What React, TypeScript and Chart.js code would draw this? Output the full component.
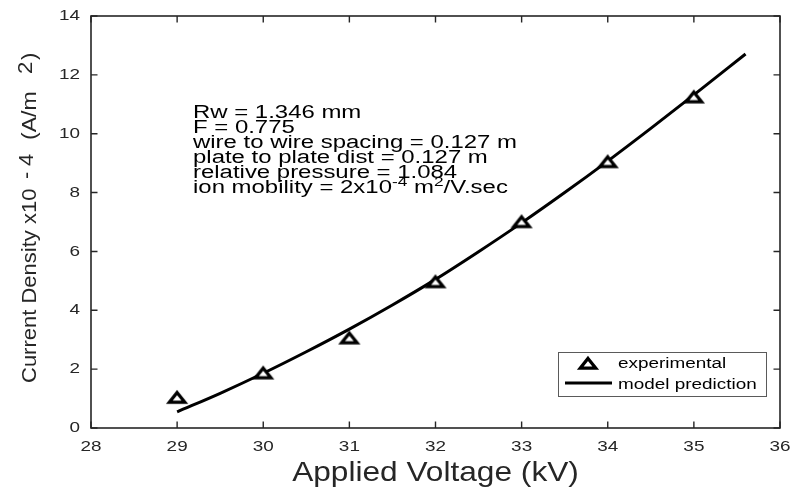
import React, { useEffect, useRef } from "react";
import { Chart, registerables } from "chart.js";

Chart.register(...registerables);

// Measured current density (x10^-4 A/m^2) at each applied voltage (kV)
const expVoltage = [29, 30, 31, 32, 33, 34, 35];
const expDensity = [1.05, 1.88, 3.07, 4.98, 7.02, 9.06, 11.26];

// Model prediction curve
const modelVoltage = [29.0, 29.5, 30, 30.5, 31, 31.5, 32, 32.5, 33, 33.5, 34, 34.5, 35, 35.6];
const modelDensity = [0.55, 1.18, 1.86, 2.59, 3.36, 4.18, 5.05, 5.99, 6.97, 8.0, 9.07, 10.18, 11.32, 12.71];

// Axis ranges and tick steps
const xTicks = [28, 29, 30, 31, 32, 33, 34, 35, 36];
const yTicks = [0, 2, 4, 6, 8, 10, 12, 14];

const seriesNames = ["experimental", "model prediction"];

const annotationLines = [
  "Rw = 1.346 mm",
  "F = 0.775",
  "wire to wire spacing = 0.127 m",
  "plate to plate dist = 0.127 m",
  "relative pressure = 1.084",
];

const FONT = '"Liberation Sans", Arial, Helvetica, sans-serif';
const AXIS_COLOR = "#262626";

function makeTriangle(): HTMLCanvasElement {
  const c = document.createElement("canvas");
  c.width = 28;
  c.height = 22;
  const g = c.getContext("2d")!;
  const cx = 14;
  const cy = 11;
  g.beginPath();
  g.moveTo(cx, cy - 4.6);
  g.lineTo(cx + 7.8, cy + 5.2);
  g.lineTo(cx - 7.8, cy + 5.2);
  g.closePath();
  g.fillStyle = "#ffffff";
  g.fill();
  g.lineJoin = "miter";
  g.lineWidth = 3.2;
  g.strokeStyle = "#000000";
  g.stroke();
  return c;
}

function text(
  ctx: CanvasRenderingContext2D,
  str: string,
  x: number,
  y: number,
  size: number,
  sx: number,
  align: "left" | "center" | "right",
  baseline: CanvasTextBaseline
): number {
  ctx.save();
  ctx.font = `${size}px ${FONT}`;
  ctx.textBaseline = baseline;
  ctx.textAlign = "left";
  const w = ctx.measureText(str).width * sx;
  const x0 = align === "center" ? x - w / 2 : align === "right" ? x - w : x;
  ctx.translate(x0, y);
  ctx.scale(sx, 1);
  ctx.fillText(str, 0, 0);
  ctx.restore();
  return w;
}

function makeFrame(tri: HTMLCanvasElement) {
  return {
    id: "frame",
    afterDraw(chart: any) {
      const ctx: CanvasRenderingContext2D = chart.ctx;
      const { left, right, top, bottom } = chart.chartArea;
      const xs = chart.scales.x;
      const ys = chart.scales.y;
      const tick = 6.5;

      ctx.save();
      // Box and inward ticks
      ctx.strokeStyle = AXIS_COLOR;
      ctx.lineWidth = 1.6;
      ctx.strokeRect(left, top, right - left, bottom - top);
      ctx.lineWidth = 1.4;
      ctx.beginPath();
      xTicks.forEach((v) => {
        const px = xs.getPixelForValue(v);
        ctx.moveTo(px, bottom);
        ctx.lineTo(px, bottom - tick);
        ctx.moveTo(px, top);
        ctx.lineTo(px, top + tick);
      });
      yTicks.forEach((v) => {
        const py = ys.getPixelForValue(v);
        ctx.moveTo(left, py);
        ctx.lineTo(left + tick, py);
        ctx.moveTo(right, py);
        ctx.lineTo(right - tick, py);
      });
      ctx.stroke();

      // Tick labels
      ctx.fillStyle = AXIS_COLOR;
      xTicks.forEach((v) => {
        text(ctx, String(v), xs.getPixelForValue(v), bottom + 19, 15, 1.26, "center", "middle");
      });
      yTicks.forEach((v) => {
        text(ctx, String(v), left - 11, ys.getPixelForValue(v), 15, 1.26, "right", "middle");
      });

      // X axis title
      text(ctx, "Applied Voltage (kV)", (left + right) / 2, bottom + 53, 28, 1.13, "center", "alphabetic");

      // Y axis title, rotated, with raised exponents
      ctx.save();
      ctx.translate(36, 383);
      ctx.rotate(-Math.PI / 2);
      text(ctx, "Current Density x10", 0, 0, 20, 1.1, "left", "alphabetic");
      text(ctx, "-", 204, -3, 20, 1.1, "left", "alphabetic");
      text(ctx, "4", 217, -3, 20, 1.1, "left", "alphabetic");
      text(ctx, "(A/m", 243, 0, 20, 1.15, "left", "alphabetic");
      text(ctx, "2", 309, -4, 20, 1.1, "left", "alphabetic");
      text(ctx, ")", 323, 0, 20, 1.1, "left", "alphabetic");
      ctx.restore();

      // Parameter annotation
      ctx.fillStyle = "#000000";
      const ax = 193;
      annotationLines.forEach((ln, i) => {
        text(ctx, ln, ax, 118.3 + i * 14.9, 18, 1.33, "left", "alphabetic");
      });
      const by = 118.3 + 5 * 14.9;
      let w = text(ctx, "ion mobility = 2x10", ax, by, 18, 1.33, "left", "alphabetic");
      w += text(ctx, "-4", ax + w, by - 7, 13, 1.33, "left", "alphabetic");
      w += text(ctx, " m", ax + w, by, 18, 1.33, "left", "alphabetic");
      w += text(ctx, "2", ax + w, by - 7, 13, 1.33, "left", "alphabetic");
      text(ctx, "/V.sec", ax + w, by, 18, 1.33, "left", "alphabetic");

      // Legend
      const lx = 558, ly = 352, lw = 208, lh = 44;
      ctx.fillStyle = "#ffffff";
      ctx.fillRect(lx, ly, lw, lh);
      ctx.strokeStyle = "#5a5a5a";
      ctx.lineWidth = 1;
      ctx.strokeRect(lx + 0.5, ly + 0.5, lw, lh);
      ctx.drawImage(tri, 588 - tri.width / 2, 363 - tri.height / 2);
      ctx.strokeStyle = "#000000";
      ctx.lineWidth = 3;
      ctx.beginPath();
      ctx.moveTo(565, 383);
      ctx.lineTo(612, 383);
      ctx.stroke();
      ctx.fillStyle = "#000000";
      text(ctx, seriesNames[0], 618, 368.3, 14, 1.35, "left", "alphabetic");
      text(ctx, seriesNames[1], 618, 389, 14, 1.35, "left", "alphabetic");
      ctx.restore();
    },
  };
}

export default function App() {
  const ref = useRef<HTMLCanvasElement | null>(null);

  useEffect(() => {
    document.body.style.margin = "0";
    const tri = makeTriangle();
    const chart = new Chart(ref.current!, {
      type: "scatter",
      data: {
        datasets: [
          {
            label: seriesNames[1],
            data: modelVoltage.map((v, i) => ({ x: v, y: modelDensity[i] })),
            showLine: true,
            borderColor: "#000000",
            borderWidth: 3,
            pointRadius: 0,
            cubicInterpolationMode: "monotone",
            order: 2,
          },
          {
            label: seriesNames[0],
            data: expVoltage.map((v, i) => ({ x: v, y: expDensity[i] })),
            showLine: false,
            pointStyle: tri,
            pointRadius: 10,
            order: 1,
          },
        ],
      },
      options: {
        animation: false,
        responsive: false,
        layout: { padding: { top: 16, right: 9, left: 0, bottom: 0 } },
        plugins: { legend: { display: false }, tooltip: { enabled: false } },
        scales: {
          x: {
            type: "linear",
            min: 28,
            max: 36,
            ticks: { display: false, stepSize: 1 },
            grid: { display: false },
            border: { display: false },
            afterFit: (s: any) => {
              s.height = 59;
            },
          },
          y: {
            type: "linear",
            min: 0,
            max: 14,
            ticks: { display: false, stepSize: 2 },
            grid: { display: false },
            border: { display: false },
            afterFit: (s: any) => {
              s.width = 91;
            },
          },
        },
      },
      plugins: [makeFrame(tri)],
    });
    return () => chart.destroy();
  }, []);

  return (
    <div style={{ width: 791, height: 487, background: "#ffffff" }}>
      <canvas ref={ref} width={791} height={487} />
    </div>
  );
}
